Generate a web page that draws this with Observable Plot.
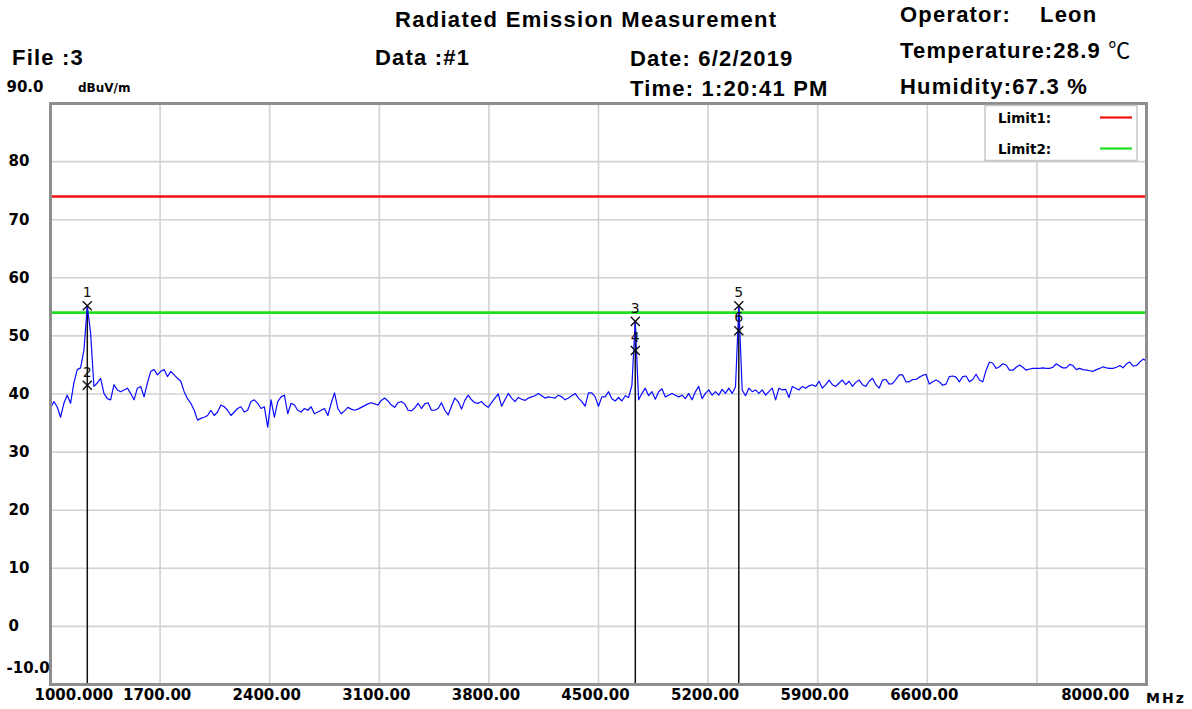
<!DOCTYPE html>
<html><head><meta charset="utf-8">
<script src="https://cdn.jsdelivr.net/npm/d3@7"></script>
<script src="https://cdn.jsdelivr.net/npm/@observablehq/plot@0.6"></script>
<style>
html,body{margin:0;padding:0;background:#fff;}
#wrap{position:relative;width:1192px;height:709px;overflow:hidden;background:#fff;}
#wrap > svg{position:absolute;left:0;top:0;}
#over{pointer-events:none;}
</style></head><body><div id="wrap"></div>
<script>
// ---------- data ----------
const sweepStartMHz = 1000;
const sweepStopMHz = 8000;
const traceDBuV = [
  37.5, 38.7, 37.8, 36.0, 38.4, 39.8, 38.4, 41.9, 44.2, 44.5,
  47.5, 55.2, 50.5, 41.3, 41.9, 42.7, 40.1, 39.2, 39.0, 41.6,
  40.7, 40.4, 40.7, 41.0, 40.1, 39.0, 41.0, 41.3, 39.5, 41.9,
  43.9, 44.2, 43.3, 43.9, 44.2, 43.0, 43.9, 43.3, 42.7, 42.2,
  40.4, 39.2, 38.4, 37.2, 35.5, 35.8, 36.0, 36.3, 37.2, 36.3,
  36.9, 38.1, 37.8, 37.2, 36.3, 36.9, 37.5, 37.8, 36.9, 37.2,
  38.7, 39.0, 38.4, 37.5, 37.8, 34.3, 39.0, 36.0, 38.7, 39.5,
  39.8, 36.6, 38.4, 38.1, 37.2, 36.9, 37.5, 37.2, 37.8, 36.6,
  36.9, 37.2, 37.5, 36.3,
  38.4, 40.2, 37.5, 36.6, 37.1, 37.7, 37.4, 37.2, 37.4, 37.7,
  38.0, 38.3, 38.5, 38.3, 38.1, 38.9, 39.3, 38.8, 38.1, 37.7,
  38.5, 38.7, 38.3, 37.2, 37.1, 37.6, 38.4, 37.5, 38.3, 38.5,
  37.2, 37.2, 37.5, 38.5, 37.2, 36.4, 37.9, 39.3, 38.7, 37.4,
  38.9, 39.8, 39.0, 38.5, 38.4, 38.7, 38.1, 37.7, 38.5, 39.3,
  40.0, 37.9, 39.0, 40.1, 39.3, 38.7, 39.4, 39.1, 38.9, 39.3,
  39.5, 39.7, 40.1, 39.7, 39.3, 39.5, 39.4, 39.3, 39.8, 39.5,
  39.0, 39.3, 39.7, 40.1, 39.3, 38.7, 37.9, 40.2, 40.2, 39.5,
  37.9, 39.5,
  39.5, 40.4, 39.2, 38.8, 39.4, 38.8, 39.7, 39.4, 41.5, 52.5,
  39.0, 40.1, 41.0, 39.7, 40.4, 39.1, 40.4, 40.9, 39.5, 39.8,
  40.1, 39.8, 39.5, 39.8, 39.2, 40.1, 39.0, 40.4, 41.3, 39.2,
  40.1, 40.7, 39.8, 40.4, 39.8, 40.8, 40.1, 41.0, 40.1, 41.2,
  55.2, 40.7, 39.7, 41.0, 40.4, 40.7, 40.1, 40.7, 39.8, 40.4,
  41.0, 39.0, 41.0, 40.7, 40.8, 39.4, 41.3, 41.0, 40.7, 41.3,
  41.0, 41.4, 41.6, 41.3, 42.2, 41.0, 41.6, 42.4, 41.6, 41.3,
  41.9, 42.4, 41.6, 42.2, 41.3, 42.0, 42.4, 41.6, 41.3, 42.2,
  42.7, 41.6, 41.0,
  42.4, 42.5, 41.7, 41.8, 42.5, 43.3, 43.3, 42.1, 42.1, 42.5,
  42.5, 42.9, 43.2, 43.4, 41.7, 42.1, 42.4, 42.1, 41.5, 41.7,
  43.0, 43.1, 42.9, 42.1, 43.0, 43.1, 42.1, 42.5, 43.4, 42.4,
  42.1, 44.1, 45.5, 45.3, 44.4, 44.7, 45.2, 45.0, 44.1, 44.1,
  44.6, 45.0, 44.6, 44.1, 44.3, 44.4, 44.4, 44.4, 44.5, 44.4,
  44.4, 44.6, 45.2, 44.8, 44.5, 44.5, 45.1, 44.9, 44.2, 44.4,
  44.2, 44.1, 44.0, 43.9, 44.2, 44.4, 44.7, 44.5, 44.4, 44.4,
  44.6, 44.9, 44.5, 45.2, 45.5, 44.8, 44.9, 45.5, 46.0, 45.7
];
const markerNo = ["1", "2", "3", "4", "5", "6"];
const markerMHz = [1235, 1235, 4735, 4735, 5396, 5396];
const markerDBuV = [55.2, 41.5, 52.5, 47.5, 55.2, 50.9];
const limitNames = ["Limit1:", "Limit2:"];
const limitDBuV = [74, 54];
const xGridMHz = [1700, 2400, 3100, 3800, 4500, 5200, 5900, 6600, 7300];
const xTickMHz = [1000, 1700, 2400, 3100, 3800, 4500, 5200, 5900, 6600, 8000];
const xTickLabels = ["1000.000", "1700.00", "2400.00", "3100.00", "3800.00", "4500.00", "5200.00", "5900.00", "6600.00", "8000.00"];
const yGridDBuV = [0, 10, 20, 30, 40, 50, 60, 70, 80];
const yTickDBuV = [90, 80, 70, 60, 50, 40, 30, 20, 10, 0, -10];
const yTickLabels = ["90.0", "80", "70", "60", "50", "40", "30", "20", "10", "0", "-10.0"];
const headerTexts = {
  title: "Radiated Emission Measurement",
  file: "File :3", data: "Data :#1", date: "Date: 6/2/2019", time: "Time: 1:20:41 PM",
  operatorLabel: "Operator:", operator: "Leon",
  temperature: "Temperature:28.9 ", tempUnit: "℃", humidity: "Humidity:67.3 %",
  unit: "dBuV/m", xUnit: "MHz"
};

// ---------- build ----------
const nPts = traceDBuV.length;
const step = (sweepStopMHz - sweepStartMHz) / (nPts - 1);
const trace = traceDBuV.map((v, i) => ({f: sweepStartMHz + i * step, v}));
const markers = markerNo.map((n, i) => ({n, f: markerMHz[i], v: markerDBuV[i]}));
const ruleRows = Array.from(d3.rollup(markers, g => d3.max(g, d => d.v), d => d.f), ([f, top]) => ({f, top}));
const yTicks = yTickDBuV.map((v, i) => ({v, t: yTickLabels[i], end: v === 90 || v === -10}));
const xTicks = xTickMHz.map((f, i) => ({f, t: xTickLabels[i], i}));
const lastX = xTicks.length - 1;
const yFont = {fontFamily: "DejaVu Sans", fontWeight: "bold", fontSize: 15, fill: "black"};
const xFont = {fontFamily: "DejaVu Sans", fontWeight: "bold", fontSize: 15, fill: "black"};

const chart = Plot.plot({
  width: 1192, height: 709,
  marginLeft: 50, marginRight: 46, marginTop: 103, marginBottom: 25,
  x: {domain: [sweepStartMHz, sweepStopMHz], axis: null},
  y: {domain: [-10, 90], axis: null},
  style: {background: "white", overflow: "visible", fontFamily: "DejaVu Sans"},
  marks: [
    Plot.ruleY(yGridDBuV, {y: d => d, stroke: "#d2d2d2", strokeWidth: 1.6}),
    Plot.ruleX(xGridMHz, {x: d => d, stroke: "#d2d2d2", strokeWidth: 1.6}),
    Plot.ruleY([limitDBuV[0]], {y: d => d, stroke: "#f01010", strokeWidth: 2.6}),
    Plot.ruleY([limitDBuV[1]], {y: d => d, stroke: "#1ee01e", strokeWidth: 2.6}),
    Plot.ruleX(ruleRows, {x: "f", y1: "top", y2: d => -10, stroke: "#111", strokeWidth: 1.5}),
    Plot.line(trace, {x: "f", y: "v", stroke: "#0a0aff", strokeWidth: 1.2}),
    Plot.dot(markers, {x: "f", y: "v", symbol: "times", r: 4.2, stroke: "#111", strokeWidth: 1.4}),
    Plot.text(markers, {x: "f", y: "v", text: "n", dy: -13, fontSize: 14, fontFamily: "DejaVu Sans", fill: "#111"}),
    Plot.frame({stroke: "#8e8e8e", strokeWidth: 3}),
    Plot.text(yTicks.filter(d => !d.end), {y: "v", text: "t", frameAnchor: "left", dx: -42, textAnchor: "start", ...yFont}),
    Plot.text(yTicks.filter(d => d.end), {y: "v", text: "t", frameAnchor: "left", dx: -44, dy: -16, textAnchor: "start", ...yFont}),
    Plot.text(xTicks.filter(d => d.i === 0), {x: "f", text: "t", frameAnchor: "bottom", dy: 15, dx: -16, textAnchor: "start", ...xFont}),
    Plot.text(xTicks.filter(d => d.i > 0 && d.i < lastX), {x: "f", text: "t", frameAnchor: "bottom", dy: 15, dx: -3, ...xFont}),
    Plot.text(xTicks.filter(d => d.i === lastX), {x: "f", text: "t", frameAnchor: "bottom", dy: 15, dx: -17, textAnchor: "end", ...xFont})
  ]
});
const wrap = document.getElementById("wrap");
wrap.appendChild(chart);

// ---------- header + legend overlay ----------
const NS = "http://www.w3.org/2000/svg";
const over = document.createElementNS(NS, "svg");
over.setAttribute("id", "over");
over.setAttribute("width", 1192); over.setAttribute("height", 709);
wrap.appendChild(over);
function txt(x, y, s, o = {}) {
  const t = document.createElementNS(NS, "text");
  t.setAttribute("x", x); t.setAttribute("y", y);
  t.setAttribute("font-family", o.family || "Liberation Sans, Arial, sans-serif");
  t.setAttribute("font-weight", o.weight || "bold");
  t.setAttribute("font-size", o.size || 22);
  if (o.ls) t.setAttribute("letter-spacing", o.ls);
  t.setAttribute("fill", "#000");
  t.textContent = s;
  over.appendChild(t);
  return t;
}
const H = {size: 22, ls: 1.2};
txt(395, 27, headerTexts.title, {size: 22, ls: 1.3});
txt(12, 65, headerTexts.file, H);
txt(375, 65, headerTexts.data, H);
txt(630, 66, headerTexts.date, H);
txt(630, 96, headerTexts.time, H);
txt(900, 22, headerTexts.operatorLabel, H);
txt(1040, 22, headerTexts.operator, H);
const tt = txt(900, 58, headerTexts.temperature, H);
const ts = document.createElementNS(NS, "tspan");
ts.setAttribute("font-family", "Noto Sans CJK SC");
ts.setAttribute("font-weight", "normal");
ts.textContent = headerTexts.tempUnit;
tt.appendChild(ts);
txt(900, 94, headerTexts.humidity, H);
txt(78, 92, headerTexts.unit, {family: "DejaVu Sans", size: 12});
txt(1146, 703, headerTexts.xUnit, {family: "DejaVu Sans", size: 14, ls: 2});

// legend
const lg = document.createElementNS(NS, "rect");
lg.setAttribute("x", 985); lg.setAttribute("y", 105.5);
lg.setAttribute("width", 152); lg.setAttribute("height", 55);
lg.setAttribute("fill", "#fff"); lg.setAttribute("stroke", "#c8c8c8"); lg.setAttribute("stroke-width", 1.5);
over.appendChild(lg);
const legendColors = ["#f01010", "#1ee01e"];
limitNames.forEach((name, i) => {
  const cy = 117.5 + i * 31;
  txt(998, cy + 5, name, {family: "DejaVu Sans", size: 13.5});
  const ln = document.createElementNS(NS, "line");
  ln.setAttribute("x1", 1100); ln.setAttribute("x2", 1132);
  ln.setAttribute("y1", cy); ln.setAttribute("y2", cy);
  ln.setAttribute("stroke", legendColors[i]); ln.setAttribute("stroke-width", 2.2);
  over.appendChild(ln);
});
</script></body></html>
